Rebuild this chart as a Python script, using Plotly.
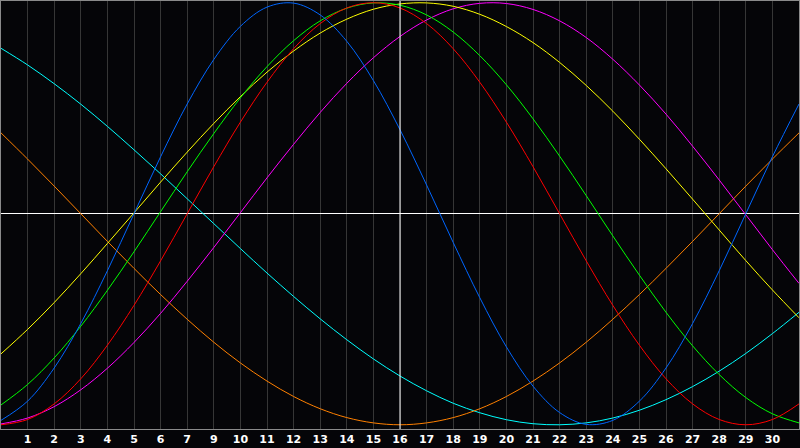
import plotly.graph_objects as go

# x positions (grid index) and day labels shown on the axis
tick_pos = list(range(1, 30))
tick_labels = ["1", "2", "3", "4", "5", "6", "7", "9", "10", "11", "12", "13", "14", "15",
               "16", "17", "18", "19", "20", "21", "22", "23", "24", "25", "26", "27", "28",
               "29", "30"]
x_idx = list(range(0, 31))
today_idx = 15

# curve values (at each grid index 0..30)
blue = [-0.979, -0.888, -0.731, -0.520, -0.270, 0.000, 0.270, 0.520, 0.731, 0.888, 0.979,
        0.998, 0.942, 0.817, 0.631, 0.398, 0.136, -0.136, -0.398, -0.631, -0.817, -0.942,
        -0.998, -0.979, -0.888, -0.731, -0.520, -0.270, 0.000, 0.270, 0.520]
red = [-1.000, -0.975, -0.901, -0.782, -0.623, -0.434, -0.223, 0.000, 0.223, 0.434, 0.623,
       0.782, 0.901, 0.975, 1.000, 0.975, 0.901, 0.782, 0.623, 0.434, 0.223, 0.000, -0.223,
       -0.434, -0.623, -0.782, -0.901, -0.975, -1.000, -0.975, -0.901]
green = [-0.906, -0.809, -0.683, -0.533, -0.363, -0.180, 0.010, 0.199, 0.380, 0.549, 0.697,
         0.820, 0.914, 0.974, 0.999, 0.988, 0.942, 0.861, 0.749, 0.611, 0.450, 0.273, 0.086,
         -0.105, -0.291, -0.467, -0.626, -0.762, -0.871, -0.948, -0.991]
magenta = [-0.996, -0.968, -0.914, -0.834, -0.732, -0.610, -0.472, -0.320, -0.160, 0.005,
           0.170, 0.329, 0.480, 0.618, 0.739, 0.840, 0.918, 0.971, 0.997, 0.996, 0.968,
           0.914, 0.835, 0.732, 0.610, 0.472, 0.320, 0.160, -0.005, -0.170, -0.330]
yellow = [-0.664, -0.548, -0.421, -0.284, -0.141, 0.004, 0.150, 0.292, 0.428, 0.555, 0.671,
          0.771, 0.856, 0.922, 0.969, 0.994, 0.999, 0.983, 0.945, 0.887, 0.811, 0.717, 0.608,
          0.486, 0.353, 0.213, 0.069, -0.077, -0.222, -0.361, -0.493]
orange = [0.383, 0.259, 0.131, 0.000, -0.131, -0.259, -0.383, -0.500, -0.609, -0.707, -0.793,
          -0.866, -0.924, -0.966, -0.991, -1.000, -0.991, -0.966, -0.924, -0.866, -0.793,
          -0.707, -0.609, -0.500, -0.383, -0.259, -0.131, 0.000, 0.131, 0.259, 0.383]
cyan = [0.784, 0.705, 0.616, 0.519, 0.414, 0.303, 0.189, 0.071, -0.047, -0.165, -0.281,
        -0.392, -0.498, -0.597, -0.688, -0.769, -0.839, -0.898, -0.943, -0.976, -0.995,
        -1.000, -0.991, -0.968, -0.931, -0.881, -0.819, -0.746, -0.662, -0.568, -0.467]

series = [
    ("cyan", cyan, "#00ffff"),
    ("orange", orange, "#ff8000"),
    ("magenta", magenta, "#ff00ff"),
    ("yellow", yellow, "#ffff00"),
    ("green", green, "#00ff00"),
    ("red", red, "#ff0000"),
    ("blue", blue, "#0066ff"),
]

fig = go.Figure()
for name, vals, col in series:
    fig.add_trace(go.Scatter(x=x_idx, y=vals, mode="lines", name=name,
                             line=dict(color=col, width=1, shape="spline"),
                             hoverinfo="skip"))

# today marker
fig.add_shape(type="line", x0=today_idx, x1=today_idx, y0=0, y1=1, yref="paper",
              line=dict(color="#ffffff", width=1), layer="above")

bg = "#050508"
fig.update_layout(
    width=800, height=448,
    margin=dict(l=1, r=1, t=1, b=19),
    paper_bgcolor=bg, plot_bgcolor=bg,
    showlegend=False,
    xaxis=dict(range=[0, 30], tickvals=tick_pos, ticktext=tick_labels,
               showgrid=True, gridcolor="#363636", gridwidth=1,
               zeroline=False, showline=True, linecolor="#8a8a8a", linewidth=1,
               mirror=True, ticks="", ticklen=0,
               tickfont=dict(family="DejaVu Sans", size=11, color="#ffffff", weight="bold"),
               fixedrange=True),
    yaxis=dict(range=[-1.02, 1.008], showgrid=False, showticklabels=False,
               zeroline=True, zerolinecolor="#ffffff", zerolinewidth=1,
               showline=True, linecolor="#8a8a8a", linewidth=1, mirror=True,
               ticks="", fixedrange=True),
)

fig.write_html("out.html", config={"displayModeBar": False},
               post_script="document.body.style.margin='0px';document.body.style.background='#050508';")
